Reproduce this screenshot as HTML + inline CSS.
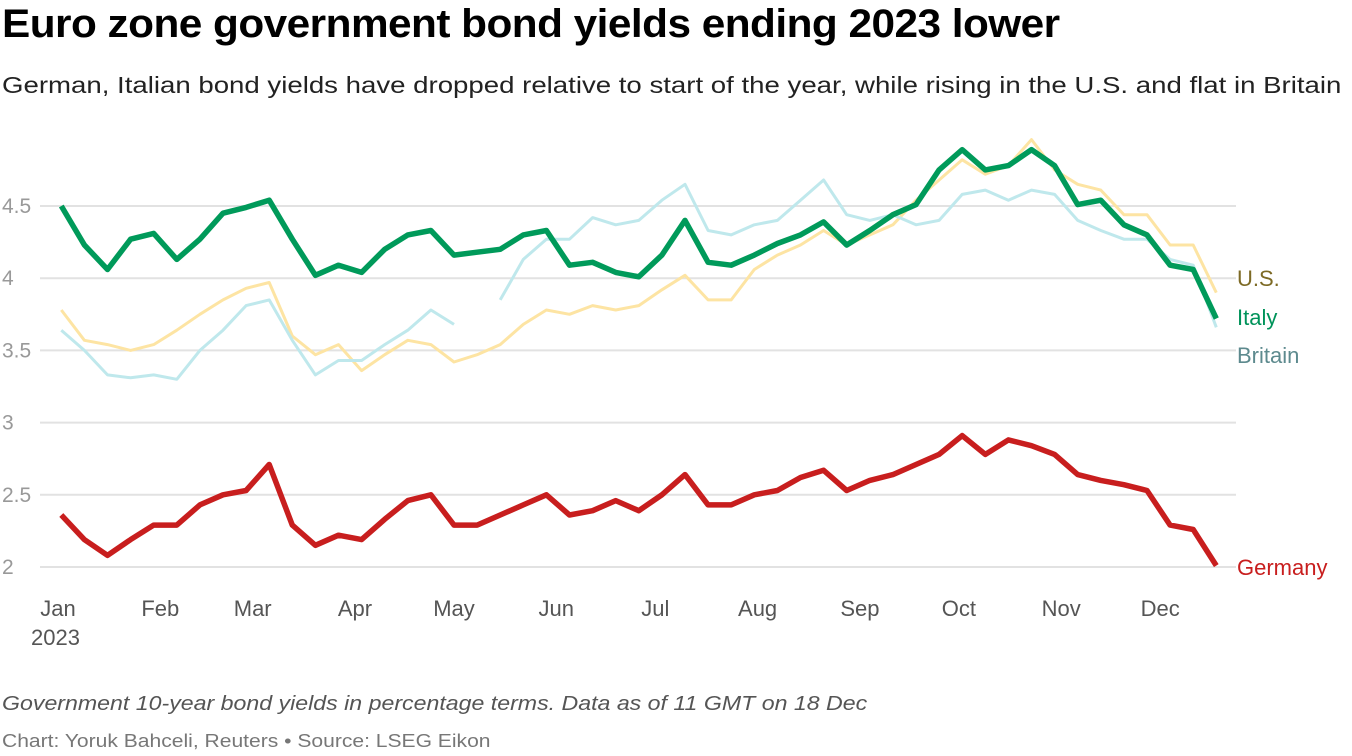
<!DOCTYPE html>
<html><head><meta charset="utf-8"><style>
body{margin:0;width:1352px;height:756px;background:#fff;font-family:"Liberation Sans",sans-serif;overflow:hidden;position:relative}
.t{position:absolute;white-space:nowrap;transform-origin:0 0}
</style></head><body>
<div class="t" style="left:2px;top:2px;font-size:40px;font-weight:bold;color:#000;letter-spacing:-0.5px;transform:scaleX(1.058)">Euro zone government bond yields ending 2023 lower</div>
<div class="t" style="left:2px;top:72px;font-size:23px;color:#222;transform:scaleX(1.2)">German, Italian bond yields have dropped relative to start of the year, while rising in the U.S. and flat in Britain</div>
<svg id="c" width="1352" height="756" style="position:absolute;left:0;top:0;font-family:'Liberation Sans',sans-serif"></svg>
<div class="t" style="left:2px;top:693px;font-size:20px;font-style:italic;color:#555;transform:scaleX(1.157)">Government 10-year bond yields in percentage terms. Data as of 11 GMT on 18 Dec</div>
<div class="t" style="left:2px;top:731px;font-size:18px;color:#777;transform:scaleX(1.17)">Chart: Yoruk Bahceli, Reuters • Source: LSEG Eikon</div>
<script>
const days=[2,9,16,23,30,37,44,51,58,65,72,79,86,93,100,107,114,121,128,135,142,149,156,163,170,177,184,191,198,205,212,219,226,233,240,247,254,261,268,275,282,289,296,303,310,317,324,331,338,345,352];
const us=[3.78,3.57,3.54,3.5,3.54,3.64,3.75,3.85,3.93,3.97,3.6,3.47,3.54,3.36,3.47,3.57,3.54,3.42,3.47,3.54,3.68,3.78,3.75,3.81,3.78,3.81,3.92,4.02,3.85,3.85,4.06,4.16,4.23,4.33,4.23,4.3,4.37,4.54,4.68,4.82,4.72,4.78,4.96,4.75,4.65,4.61,4.44,4.44,4.23,4.23,3.9];
const italy=[4.5,4.23,4.06,4.27,4.31,4.13,4.27,4.45,4.49,4.54,4.27,4.02,4.09,4.04,4.2,4.3,4.33,4.16,4.18,4.2,4.3,4.33,4.09,4.11,4.04,4.01,4.16,4.4,4.11,4.09,4.16,4.24,4.3,4.39,4.23,4.33,4.44,4.51,4.75,4.89,4.75,4.78,4.89,4.78,4.51,4.54,4.37,4.3,4.09,4.06,3.72];
const britain=[3.64,3.5,3.33,3.31,3.33,3.3,3.5,3.64,3.81,3.85,3.57,3.33,3.43,3.43,3.54,3.64,3.78,3.68,null,3.85,4.13,4.27,4.27,4.42,4.37,4.4,4.54,4.65,4.33,4.3,4.37,4.4,4.54,4.68,4.44,4.4,4.44,4.37,4.4,4.58,4.61,4.54,4.61,4.58,4.4,4.33,4.27,4.27,4.13,4.09,3.66];
const germany=[2.36,2.19,2.08,2.19,2.29,2.29,2.43,2.5,2.53,2.71,2.29,2.15,2.22,2.19,2.33,2.46,2.5,2.29,2.29,2.36,2.43,2.5,2.36,2.39,2.46,2.39,2.5,2.64,2.43,2.43,2.5,2.53,2.62,2.67,2.53,2.6,2.64,2.71,2.78,2.91,2.78,2.88,2.84,2.78,2.64,2.6,2.57,2.53,2.29,2.26,2.01];
const yTicks=[2,2.5,3,3.5,4,4.5];
const yTickLabels=["2","2.5","3","3.5","4","4.5"];
const months=["Jan","Feb","Mar","Apr","May","Jun","Jul","Aug","Sep","Oct","Nov","Dec"];
const monthDays=[1,32,60,91,121,152,182,213,244,274,305,335];
const svg=document.getElementById('c');const NS='http://www.w3.org/2000/svg';
const X=d=>58+3.30*(d-1);const Y=v=>567-(v-2)*144.4;
function mk(t,a){const e=document.createElementNS(NS,t);for(const k in a)e.setAttribute(k,a[k]);svg.appendChild(e);return e;}
yTicks.forEach((v,i)=>{const g=mk('line',{x1:40,x2:1236,y1:Y(v),y2:Y(v),stroke:'#e2e2e2','stroke-width':2});


const t=mk('text',{x:2,y:Y(v)+7,'font-size':21,fill:'#999'});t.textContent=yTickLabels[i];

});
months.forEach((m,i)=>{const t=mk('text',{x:X(monthDays[i]),y:616,'font-size':22,fill:'#555','text-anchor':'middle'});t.textContent=m;

});
const yr=mk('text',{x:31,y:645,'font-size':22,fill:'#555'});yr.textContent='2023';


function line(vals,col,w,name){let d='',pen=false;vals.forEach((v,i)=>{if(v==null){pen=false;return;}d+=(pen?'L':'M')+X(days[i]).toFixed(1)+','+Y(v).toFixed(1);pen=true;});
const p=mk('path',{d:d,fill:'none',stroke:col,'stroke-width':w,'stroke-linejoin':'round'});

}
line(us,'#fde4a3',3,'us-line');
line(britain,'#bfe8ec',3,'britain-line');
line(italy,'#009a5a',5.5,'italy-line');
line(germany,'#c81e1e',5.5,'germany-line');
[['U.S.',us,'#7d6a25','label-us'],['Italy',italy,'#00935a','label-italy'],['Britain',britain,'#5d8a8e','label-britain'],['Germany',germany,'#c81e1e','label-germany']].forEach((l,i)=>{
const ys=[286,325,363,575];const t=mk('text',{x:1237,y:ys[i],'font-size':22,fill:l[2]});t.textContent=l[0];

});
</script>
</body></html>
